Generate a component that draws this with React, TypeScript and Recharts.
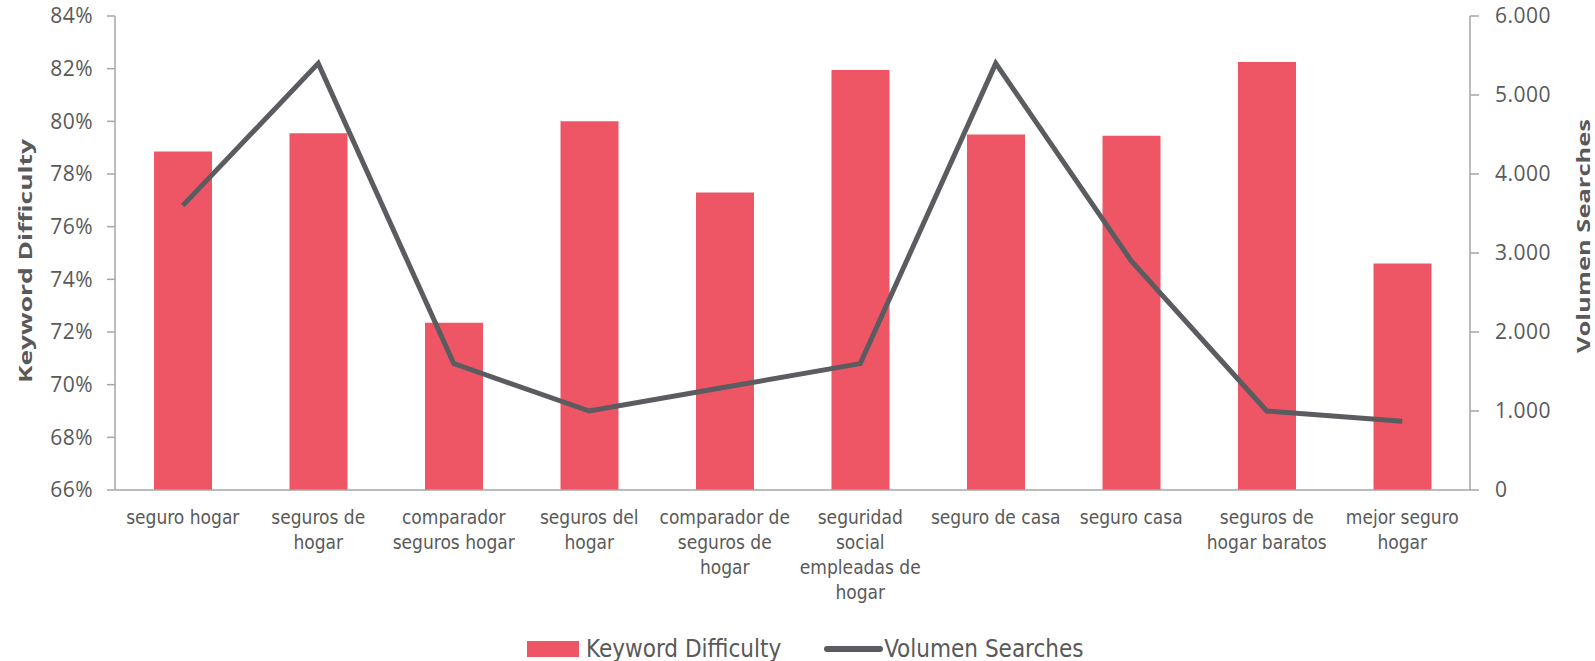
import { ComposedChart, Bar, Line, XAxis, YAxis, Legend } from "recharts";

const categories = [
  "seguro hogar",
  "seguros de\nhogar",
  "comparador\nseguros hogar",
  "seguros del\nhogar",
  "comparador de\nseguros de\nhogar",
  "seguridad\nsocial\nempleadas de\nhogar",
  "seguro de casa",
  "seguro casa",
  "seguros de\nhogar baratos",
  "mejor seguro\nhogar",
];

const keywordDifficulty = [78.85, 79.55, 72.35, 80.0, 77.3, 81.95, 79.5, 79.45, 82.25, 74.6];
const volumenSearches = [3600, 5400, 1600, 1000, 1300, 1600, 5400, 2900, 1000, 870];

const leftTicks = [66, 68, 70, 72, 74, 76, 78, 80, 82, 84];
const rightTicks = [0, 1000, 2000, 3000, 4000, 5000, 6000];

const data = categories.map((name, i) => ({
  name,
  kd: keywordDifficulty[i],
  vol: volumenSearches[i],
}));

const BAR_COLOR = "#EE5665";
const LINE_COLOR = "#5B5C60";
const AXIS_COLOR = "#A6A6A6";
const TEXT_COLOR = "#595959";
const NARROW = "'Liberation Sans Narrow', 'DejaVu Sans Condensed', Roboto, sans-serif";
const TICK_FONT = "'Open Sans', sans-serif";

const fmtThousands = (v: number) =>
  v === 0 ? "0" : `${Math.floor(v / 1000)}.${String(v % 1000).padStart(3, "0")}`;

function CategoryTick(props: any) {
  const { x, y, payload } = props;
  const lines = String(payload.value).split("\n");
  return (
    <text
      x={x}
      y={y}
      textAnchor="middle"
      fill={TEXT_COLOR}
      fontFamily={NARROW}
      fontSize={19}
    >
      {lines.map((l, i) => (
        <tspan key={i} x={x} dy={i === 0 ? 26 : 25}>
          {l}
        </tspan>
      ))}
    </text>
  );
}

// axis titles: the source font is tall and narrow, so stretch to the measured length
function AxisTitle({ cx, cy, text, length }: { cx: number; cy: number; text: string; length: number }) {
  return (
    <text
      x={cx}
      y={cy}
      transform={`rotate(-90 ${cx} ${cy})`}
      textAnchor="middle"
      dominantBaseline="central"
      fill={TEXT_COLOR}
      fontFamily={TICK_FONT}
      fontWeight="bold"
      fontSize={18}
      textLength={length}
      lengthAdjust="spacingAndGlyphs"
    >
      {text}
    </text>
  );
}

function LeftTitle(props: any) {
  const { viewBox } = props;
  return (
    <AxisTitle
      cx={viewBox.x + 25}
      cy={viewBox.y + viewBox.height / 2 + 8}
      text="Keyword Difficulty"
      length={244}
    />
  );
}

function RightTitle(props: any) {
  const { viewBox } = props;
  return (
    <AxisTitle
      cx={viewBox.x + 113}
      cy={viewBox.y + viewBox.height / 2 - 17}
      text="Volumen Searches"
      length={234}
    />
  );
}

function ChartLegend() {
  return (
    <div
      style={{
        display: "flex",
        alignItems: "center",
        height: 30,
        paddingLeft: 527,
        fontFamily: NARROW,
        fontSize: 24,
        color: TEXT_COLOR,
      }}
    >
      <span style={{ width: 52, height: 16, background: BAR_COLOR, marginRight: 7 }} />
      <span style={{ marginRight: 43 }}>Keyword Difficulty</span>
      <span style={{ width: 59, height: 6, borderRadius: 3, background: LINE_COLOR, marginRight: 1 }} />
      <span>Volumen Searches</span>
    </div>
  );
}

export default function App() {
  return (
    <div style={{ position: "absolute", left: 0, top: 0, width: 1595, height: 661, background: "#fff" }}>
      <ComposedChart
        width={1595}
        height={661}
        data={data}
        margin={{ top: 16, right: 0, bottom: 0, left: 0 }}
        barSize={58}
      >
        <XAxis
          dataKey="name"
          interval={0}
          height={141}
          tickLine={false}
          axisLine={{ stroke: AXIS_COLOR, strokeWidth: 1.5 }}
          tick={<CategoryTick />}
        />
        <YAxis
          yAxisId="left"
          width={115}
          domain={[66, 84]}
          ticks={leftTicks}
          tickFormatter={(v) => `${v}%`}
          tickSize={8}
          tickMargin={14}
          axisLine={{ stroke: AXIS_COLOR, strokeWidth: 1.5 }}
          tickLine={{ stroke: AXIS_COLOR, strokeWidth: 1.5 }}
          tick={{ fill: TEXT_COLOR, fontFamily: TICK_FONT, fontSize: 21, letterSpacing: 0.5 }}
          label={<LeftTitle />}
        />
        <YAxis
          yAxisId="right"
          orientation="right"
          width={125}
          domain={[0, 6000]}
          ticks={rightTicks}
          tickFormatter={fmtThousands}
          tickSize={9}
          tickMargin={16}
          axisLine={{ stroke: AXIS_COLOR, strokeWidth: 1.5 }}
          tickLine={{ stroke: AXIS_COLOR, strokeWidth: 1.5 }}
          tick={{ fill: TEXT_COLOR, fontFamily: TICK_FONT, fontSize: 21, letterSpacing: 0.5 }}
          label={<RightTitle />}
        />
        <Legend
          content={<ChartLegend />}
          wrapperStyle={{ position: "absolute", top: 634, left: 0, width: 1595, height: 30 }}
        />
        <Bar
          yAxisId="left"
          dataKey="kd"
          name="Keyword Difficulty"
          fill={BAR_COLOR}
          isAnimationActive={false}
        />
        <Line
          yAxisId="right"
          dataKey="vol"
          name="Volumen Searches"
          type="linear"
          stroke={LINE_COLOR}
          strokeWidth={5}
          dot={false}
          activeDot={false}
          isAnimationActive={false}
        />
      </ComposedChart>
    </div>
  );
}
